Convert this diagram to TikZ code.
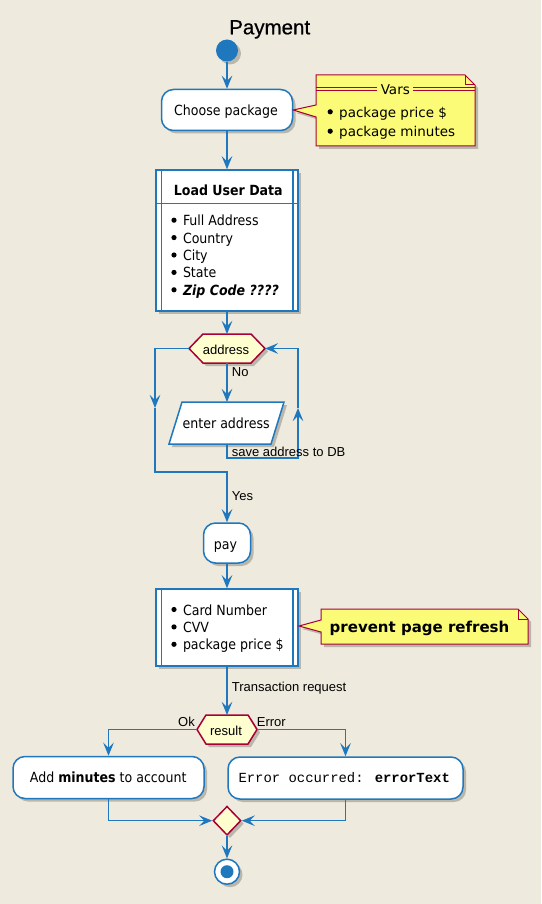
\documentclass[tikz,border=0pt]{standalone}
\usepackage{fontspec}
\setmainfont{DejaVu Sans Condensed}[BoldFont={DejaVu Sans Condensed Bold},ItalicFont={DejaVu Sans Condensed Oblique},BoldItalicFont={DejaVu Sans Condensed Bold Oblique}]
\newfontfamily\labf{Liberation Sans}
\newfontfamily\titlef{Liberation Sans}[FakeBold=0.6]
\newfontfamily\notef{DejaVu Sans}
\newfontfamily\monof{Liberation Mono}
\usetikzlibrary{arrows.meta,shadows,shapes.geometric}
\definecolor{bg}{RGB}{238,234,221}
\definecolor{pblue}{RGB}{31,120,190}
\definecolor{pred}{RGB}{168,0,54}
\definecolor{notey}{RGB}{251,251,119}
\definecolor{diay}{RGB}{254,254,206}
\newcommand{\pbul}[2]{\makebox[#1][l]{\kern#2\raisebox{2.9pt}{\tikz\fill (0pt,0pt) circle (2.6pt);}}}
\tikzset{
 shad/.style={drop shadow={shadow xshift=3pt,shadow yshift=-3pt,opacity=0.22,fill=black}},
 act/.style={draw=pblue,line width=1.5pt,fill=white,rounded corners=12pt,rectangle,inner sep=0,shad},
 boxs/.style={draw=pblue,line width=1.5pt,fill=white,rectangle,inner sep=0,shad},
 par/.style={draw=pblue,line width=1.5pt,fill=white,shad},
 flow/.style={draw=pblue,line width=1.5pt},
 arr/.style={-{Stealth[length=13pt,width=10.5pt,inset=5pt]}},
 txt/.style={inner sep=0,font=\fontsize{14}{17}\selectfont},
 btxt/.style={inner sep=0,font=\bfseries\fontsize{14}{17}\selectfont},
 lbl/.style={inner sep=0,font=\labf\fontsize{13}{15}\selectfont},
 ntxt/.style={inner sep=0,font=\notef\fontsize{13.5}{16}\selectfont},
 note/.style={draw=pred,line width=1pt,fill=notey,shad},
 dec/.style={draw=pred,line width=1.5pt,fill=diay,shad},
 inl/.style={draw=pblue,line width=1.5pt},
}
\begin{document}
\begin{tikzpicture}[x=1pt,y=-1pt]
\fill[bg] (0,0) rectangle (541,904);
\useasboundingbox (0,0) rectangle (541,904);

% title
\node[inner sep=0,font=\titlef\fontsize{20.5}{24}\selectfont,anchor=base] (title) at (269.7,34.3) {Payment};

% start
\node[circle,fill=pblue,minimum size=22pt,inner sep=0,shad] (start) at (227,50.5) {};

% choose package
\node[act,minimum width=131pt,minimum height=41pt] (choose) at (227,110) {};
\node[txt,anchor=base] (chooseT) at (226,116) {Choose package};

% note Vars
\path[note] (316,75) -- (465,75) -- (475,85) -- (475,146) -- (316,146) -- (316,117) -- (choose.east) -- (316,105) -- cycle;
\draw[pred,line width=1pt] (465,75) -- (465,85) -- (475,85);
\draw[pred,line width=0.8pt] (316,87.5) -- (377,87.5) (316,90.5) -- (377,90.5) (413,87.5) -- (475,87.5) (413,90.5) -- (475,90.5);
\node[ntxt,anchor=base] (varsT) at (395.3,95) {Vars};
\node[ntxt,anchor=base west] (var1) at (326,117.3) {\pbul{13pt}{1.4pt}package price \$};
\node[ntxt,anchor=base west] (var2) at (326,136.7) {\pbul{13pt}{1.4pt}package minutes};

% load user data
\node[boxs,minimum width=142pt,minimum height=141pt] (load) at (227,240.5) {};
\draw[inl] ([xshift=6pt]load.north west) -- ([xshift=6pt]load.south west);
\draw[inl] ([xshift=-6pt]load.north east) -- ([xshift=-6pt]load.south east);
\draw[inl] ([yshift=-34pt]load.north west) -- ([yshift=-34pt]load.north east);
\node[btxt,anchor=base] (loadT) at (228.3,196) {Load User Data};
\node[txt,anchor=base west] (ld1) at (170.3,225.7) {\pbul{12.5pt}{0.9pt}Full Address};
\node[txt,anchor=base west] (ld2) at (170.3,243.1) {\pbul{12.5pt}{0.9pt}Country};
\node[txt,anchor=base west] (ld3) at (170.3,260.5) {\pbul{12.5pt}{0.9pt}City};
\node[txt,anchor=base west] (ld4) at (170.3,277.9) {\pbul{12.5pt}{0.9pt}State};
\node[txt,anchor=base west] (ld5) at (170.3,295.3) {\pbul{12.5pt}{0.9pt}\bfseries\itshape Zip Code ????};

% address hexagon
\path[dec] (189,348.5) -- (203,334) -- (251,334) -- (265,348.5) -- (251,363) -- (203,363) -- cycle;
\coordinate (aW) at (189,348.5);
\coordinate (aE) at (265,348.5);
\coordinate (aN) at (227,334);
\coordinate (aS) at (227,363);
\node[lbl,anchor=base] (addrT) at (226,354) {address};

% enter address
\path[par] (182,402) -- (284,402) -- (271,444) -- (169,444) -- cycle;
\coordinate (eN) at (227,402);
\coordinate (eS) at (227,444);
\node[txt,anchor=base] (enterT) at (226.2,428.3) {enter address};

% pay
\node[act,minimum width=47pt,minimum height=40pt] (pay) at (227,543) {};
\node[txt,anchor=base] (payT) at (225.5,549.3) {pay};

% card box
\node[boxs,minimum width=142pt,minimum height=77pt] (cc) at (227,627.5) {};
\draw[inl] ([xshift=6pt]cc.north west) -- ([xshift=6pt]cc.south west);
\draw[inl] ([xshift=-6pt]cc.north east) -- ([xshift=-6pt]cc.south east);
\node[txt,anchor=base west] (cc1) at (170.3,615) {\pbul{12.5pt}{0.9pt}Card Number};
\node[txt,anchor=base west] (cc2) at (170.3,632.4) {\pbul{12.5pt}{0.9pt}CVV};
\node[txt,anchor=base west] (cc3) at (170.3,649.8) {\pbul{12.5pt}{0.9pt}package price \$};

% note refresh
\path[note] (321,609) -- (518,609) -- (528,619) -- (528,644) -- (321,644) -- (321,632) -- (299,626) -- (321,620) -- cycle;
\draw[pred,line width=1pt] (518,609) -- (518,619) -- (528,619);
\node[inner sep=0,font=\notef\bfseries\fontsize{15}{18}\selectfont,anchor=base] (refT) at (419.5,632.7) {prevent page refresh};

% result hexagon
\path[dec] (197,729.5) -- (206,715) -- (248,715) -- (257,729.5) -- (248,744) -- (206,744) -- cycle;
\coordinate (rW) at (197,729.5);
\coordinate (rE) at (257,729.5);
\coordinate (rN) at (227,715);
\coordinate (rS) at (227,744);
\node[lbl,anchor=base] (resT) at (226,735) {result};

% branches
\node[act,minimum width=191pt,minimum height=42pt] (add) at (108.5,777.5) {};
\node[txt,anchor=base] (addT) at (108.2,782.3) {Add \textbf{minutes} to account};
\node[act,minimum width=235pt,minimum height=42pt] (err) at (345.5,778) {};
\node[inner sep=0,font=\monof\fontsize{13.9}{16}\selectfont,anchor=base] (errT) at (344.2,782.3) {Error occurred: \textbf{errorText}};

% merge
\node[diamond,dec,minimum width=28pt,minimum height=29pt,inner sep=0] (mrg) at (227,820.7) {};

% end
\node[circle,draw=pblue,line width=1.5pt,fill=white,minimum size=25pt,inner sep=0,shad] (end) at (227,871.7) {};
\fill[pblue] (end.center) circle (6.5pt);

% connectors
\draw[flow,arr] (start.south) -- (choose.north);
\draw[flow,arr] (choose.south) -- (load.north);
\draw[flow,arr] (load.south) -- (aN);
\draw[flow,arr] (aS) -- (eN);
\node[lbl,anchor=base west] (noL) at (231.7,376) {No};
\coordinate (r1) at (227,458);
\coordinate (r2) at (298,458);
\coordinate (r3) at (298,408);
\draw[flow,arr] (eS) -- (r1) -- (r2) -- (r3);
\draw[flow,arr] (r3) |- (aE);
\node[lbl,anchor=base west] (saveL) at (231.7,456.7) {save address to DB};
\coordinate (l1) at (155,348.5);
\coordinate (l2) at (155,408);
\coordinate (l3) at (155,472);
\coordinate (l4) at (227,472);
\draw[flow,arr] (aW) -- (l1) -- (l2);
\draw[flow,arr] (l2) -- (l3) -- (l4) -- (pay.north);
\node[lbl,anchor=base west] (yesL) at (231.7,500) {Yes};
\draw[flow,arr] (pay.south) -- (cc.north);
\draw[flow,arr] (cc.south) -- (rN);
\node[lbl,anchor=base west] (trL) at (231.7,691.7) {Transaction request};
\draw[flow,arr] (rW) -| (add.north);
\draw[flow,arr] (rE) -| (err.north);
\node[lbl,anchor=base east] (okL) at (195,726.7) {Ok};
\node[lbl,anchor=base west] (errL) at (256.7,726.7) {Error};
\draw[flow,arr] (add.south) |- (mrg.west);
\draw[flow,arr] (err.south) |- (mrg.east);
\draw[flow,arr] (mrg.south) -- (end.north);
\end{tikzpicture}
\end{document}
